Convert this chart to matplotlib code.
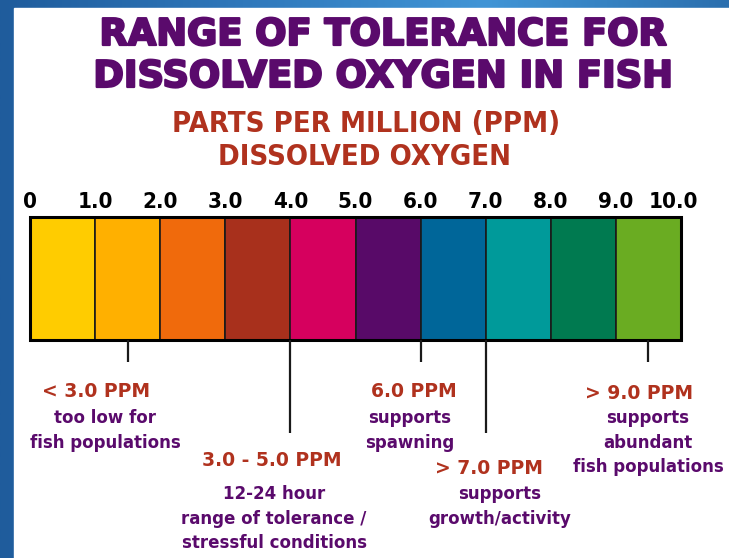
import numpy as np
import matplotlib.pyplot as plt
import matplotlib.patheffects as pe
from matplotlib.colors import LinearSegmentedColormap
from matplotlib.patches import Rectangle

# scale data
ppm_edges = [0, 1, 2, 3, 4, 5, 6, 7, 8, 9, 10]
tick_labels = ['0', '1.0', '2.0', '3.0', '4.0', '5.0', '6.0', '7.0', '8.0', '9.0', '10.0']
segment_colors = ['#ffcc00', '#ffb000', '#f06a0c', '#a8301c', '#d6005e',
                  '#580a68', '#006699', '#009a9a', '#007a50', '#6aac22']

title_lines = ['RANGE OF TOLERANCE FOR', 'DISSOLVED OXYGEN IN FISH']
subtitle_lines = ['PARTS PER MILLION (PPM)', 'DISSOLVED OXYGEN']

# pointer lines and notes under the bar
markers = [1.5, 4.0, 6.0, 7.0, 9.5]
note_heads = ['< 3.0 PPM', '3.0 - 5.0 PPM', '6.0 PPM', '> 7.0 PPM', '> 9.0 PPM']
note_lines = [['too low for', 'fish populations'],
              ['12-24 hour', 'range of tolerance /', 'stressful conditions'],
              ['supports', 'spawning'],
              ['supports', 'growth/activity'],
              ['supports', 'abundant', 'fish populations']]

W, H = 729, 558
PURPLE = '#5a0a6c'
RUST = '#b0321e'

fig = plt.figure(figsize=(W / 100, H / 100), dpi=100)

# blue backdrop + white panel
bg = fig.add_axes([0, 0, 1, 1])
bg.axis('off')
cmap = LinearSegmentedColormap.from_list('bg', ['#1f5c9c', '#2f78bb', '#4195d6', '#2b6fae'])
bg.imshow(np.linspace(0, 1, 256)[None, :], aspect='auto', cmap=cmap, extent=[0, 1, 0, 1])
bg.set_xlim(0, 1)
bg.set_ylim(0, 1)
bg.add_patch(Rectangle((14 / W, 0), 1, (H - 8) / H, color='white'))

# main axes: x in ppm, y in pixels from top
ax = fig.add_axes([0, 0, 1, 1])
ax.axis('off')
px = 65.1
x0 = -30 / px
ax.set_xlim(x0, x0 + W / px)
ax.set_ylim(H, 0)

def v(p):   # pixel column -> ppm
    return (p - 30) / px

thick = [pe.withStroke(linewidth=1.6, foreground=PURPLE)]
xc = v(383)
ax.text(xc, 45, title_lines[0], ha='center', va='baseline', fontsize=26.5,
        fontweight='bold', color=PURPLE, path_effects=thick)
ax.text(xc, 87, title_lines[1], ha='center', va='baseline', fontsize=26.5,
        fontweight='bold', color=PURPLE, path_effects=thick)

sub_font = dict(family='DejaVu Sans', fontstretch='condensed',
                fontweight='bold', fontsize=21, color=RUST, ha='center', va='baseline')
ax.text(v(366), 132, subtitle_lines[0], **sub_font)
ax.text(v(364), 165, subtitle_lines[1], **sub_font)

# colour bar
ax.bar(ppm_edges[:-1], 123, bottom=217, width=1, align='edge',
       color=segment_colors, edgecolor='#1a1a1a', linewidth=1.2)
ax.add_patch(Rectangle((0, 217), 10, 123, fill=False, lw=2.2, ec='black'))

for x, lab in zip(ppm_edges, tick_labels):
    ax.text(min(x, 9.88), 208, lab, ha='center', va='baseline', fontsize=16,
            fontweight='bold', fontstretch='condensed', color='black')

marker_ends = [362, 433, 362, 433, 362]
ax.vlines(markers, 340, marker_ends, color='#1a1a1a', lw=1.6)

head_x = [v(96), v(272), v(414), v(489), v(639)]
line_x = [v(105), v(274), v(410), v(500), v(648)]
head_y = [397, 466, 397, 474, 399]
first_y = [423, 499, 423, 499, 423]
for i in range(len(note_heads)):
    ax.text(head_x[i], head_y[i], note_heads[i], ha='center', va='baseline',
            fontsize=13.5, fontweight='bold', color=RUST)
    for k, line in enumerate(note_lines[i]):
        ax.text(line_x[i], first_y[i] + 24.5 * k, line, ha='center', va='baseline',
                fontsize=12, fontweight='bold', color=PURPLE)

fig.savefig('out.png', dpi=100)
